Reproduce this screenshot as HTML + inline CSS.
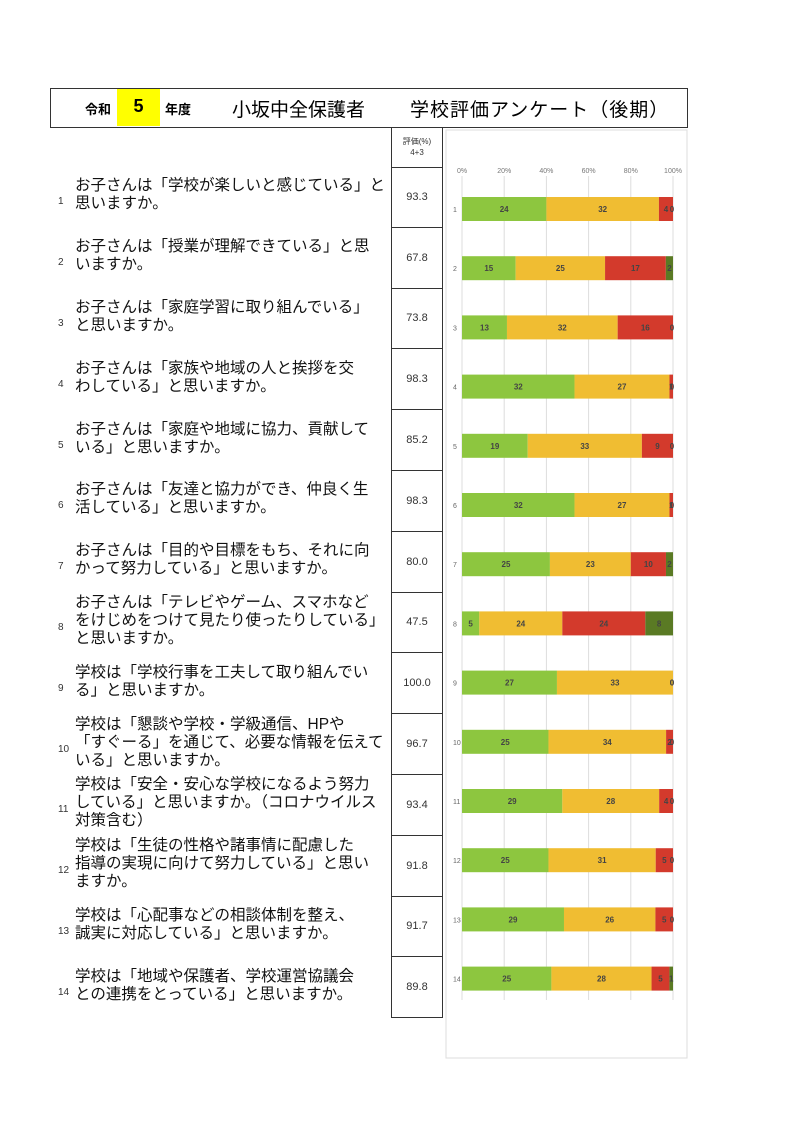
<!DOCTYPE html>
<html><head><meta charset="utf-8">
<style>
body{margin:0;width:800px;height:1131px;background:#fff;font-family:"Liberation Sans","Noto Sans CJK JP",sans-serif;position:relative;overflow:hidden}
.abs{position:absolute}
.q{position:absolute;left:50px;width:340px;font-size:15.5px;line-height:18px;color:#111}
.q .n{position:absolute;left:8px;font-size:10px;color:#333}
.q .t{position:absolute;left:25px;width:320px}
.ev{position:absolute;left:391px;width:50px;border-left:1px solid #333;border-right:1px solid #333;border-bottom:1px solid #333;font-size:11px;color:#333;display:flex;align-items:center;justify-content:center}
</style></head><body>
<div class="abs" style="left:50px;top:88px;width:636px;height:38px;border:1px solid #333"></div>
<div class="abs" style="left:85px;top:99px;font-size:13px;font-weight:bold">令和</div>
<div class="abs" style="left:117px;top:89px;width:43px;height:37px;background:#ffff00;font-size:18px;font-weight:bold;text-align:center;line-height:34px">5</div>
<div class="abs" style="left:165px;top:99px;font-size:13px;font-weight:bold">年度</div>
<div class="abs" style="left:232px;top:95px;font-size:19px">小坂中全保護者</div>
<div class="abs" style="left:410px;top:95px;font-size:19px;letter-spacing:1px">学校評価アンケート（後期）</div>
<div class="ev" style="top:127px;height:40px;font-size:8px;line-height:11px;text-align:center">評価(%)<br>4+3</div>
<div id="left"></div>
<svg id="chart" class="abs" style="left:0;top:0" width="800" height="1131"></svg>
<script>
const questions=["お子さんは「学校が楽しいと感じている」と思いますか。","お子さんは「授業が理解できている」と思いますか。","お子さんは「家庭学習に取り組んでいる」と思いますか。","お子さんは「家族や地域の人と挨拶を交わしている」と思いますか。","お子さんは「家庭や地域に協力、貢献している」と思いますか。","お子さんは「友達と協力ができ、仲良く生活している」と思いますか。","お子さんは「目的や目標をもち、それに向かって努力している」と思いますか。","お子さんは「テレビやゲーム、スマホなどをけじめをつけて見たり使ったりしている」と思いますか。","学校は「学校行事を工夫して取り組んでいる」と思いますか。","学校は「懇談や学校・学級通信、HPや「すぐーる」を通じて、必要な情報を伝えている」と思いますか。","学校は「安全・安心な学校になるよう努力している」と思いますか。（コロナウイルス対策含む）","学校は「生徒の性格や諸事情に配慮した指導の実現に向けて努力している」と思いますか。","学校は「心配事などの相談体制を整え、誠実に対応している」と思いますか。","学校は「地域や保護者、学校運営協議会との連携をとっている」と思いますか。"];
const evals=["93.3","67.8","73.8","98.3","85.2","98.3","80.0","47.5","100.0","96.7","93.4","91.8","91.7","89.8"];
const s4=[24,15,13,32,19,32,25,5,27,25,29,25,29,25];
const s3=[32,25,32,27,33,27,23,24,33,34,28,31,26,28];
const s2=[4,17,16,1,9,1,10,24,0,2,4,5,5,5];
const s1=[0,2,0,0,0,0,2,8,0,0,0,0,0,1];
const ticks=["0%","20%","40%","60%","80%","100%"];
const lines=[["お子さんは「学校が楽しいと感じている」と","思いますか。"],["お子さんは「授業が理解できている」と思","いますか。"],["お子さんは「家庭学習に取り組んでいる」","と思いますか。"],["お子さんは「家族や地域の人と挨拶を交","わしている」と思いますか。"],["お子さんは「家庭や地域に協力、貢献して","いる」と思いますか。"],["お子さんは「友達と協力ができ、仲良く生","活している」と思いますか。"],["お子さんは「目的や目標をもち、それに向","かって努力している」と思いますか。"],["お子さんは「テレビやゲーム、スマホなど","をけじめをつけて見たり使ったりしている」","と思いますか。"],["学校は「学校行事を工夫して取り組んでい","る」と思いますか。"],["学校は「懇談や学校・学級通信、HPや","「すぐーる」を通じて、必要な情報を伝えて","いる」と思いますか。"],["学校は「安全・安心な学校になるよう努力","している」と思いますか。（コロナウイルス","対策含む）"],["学校は「生徒の性格や諸事情に配慮した","指導の実現に向けて努力している」と思い","ますか。"],["学校は「心配事などの相談体制を整え、","誠実に対応している」と思いますか。"],["学校は「地域や保護者、学校運営協議会","との連携をとっている」と思いますか。"]];
const left=document.getElementById('left');
const rowTop=i=>167+i*60.8;
questions.forEach((q,i)=>{
  const top=rowTop(i), h=60.8, L=lines[i];
  const d=document.createElement('div');d.className='q';
  
  
  const ty=top+h/2-L.length*9-2;
  d.style.top=ty+'px';
  d.innerHTML='<span class="n" style="top:'+(L.length*9-2)+'px">'+(i+1)+'</span><span class="t">'+L.join('<br>')+'</span>';
  left.appendChild(d);
  const e=document.createElement('div');e.className='ev';
  
  
  e.style.top=top+'px';e.style.height=(h-1)+'px';e.textContent=evals[i];
  left.appendChild(e);
});
const svg=document.getElementById('chart');const NS='http://www.w3.org/2000/svg';
function mk(t,a,p){const e=document.createElementNS(NS,t);for(const k in a)e.setAttribute(k,a[k]);(p||svg).appendChild(e);return e;}
const x0=462,x1=673;const xs=v=>x0+(x1-x0)*v/100;
const yc=i=>209+i*59.2;
const panel=mk('rect',{x:446,y:130,width:241,height:928,fill:'#fff',stroke:'#ddd'});


ticks.forEach((t,k)=>{const x=xs(k*20);
  const g=mk('line',{x1:x,x2:x,y1:176,y2:1000,stroke:'#ddd','stroke-width':1});
  
  
  const tx=mk('text',{x:x,y:173,'font-size':7,fill:'#777','text-anchor':'middle'});tx.textContent=t;
  
  
});
const series=[s4,s3,s2,s1];const cols=['#8dc63f','#f0bd32','#d33a2c','#5a7a24'];
s4.forEach((_,i)=>{
  const tot=s4[i]+s3[i]+s2[i]+s1[i];let acc=0;const y=yc(i);
  const lb=mk('text',{x:453,y:y+3,'font-size':7,fill:'#666'});lb.textContent=i+1;
  
  
  series.forEach((s,k)=>{const v=s[i];const a=xs(acc/tot*100),b=xs((acc+v)/tot*100);acc+=v;
    if(v>0){const r=mk('rect',{x:a,y:y-12,width:b-a,height:24,fill:cols[k]});
      
      }
    if(v>0||k>=2){const t=mk('text',{x:v>0?(a+b)/2:Math.min(b+1,x1-1),y:y+3,'font-size':8,'font-weight':'bold',fill:'#444','text-anchor':'middle'});t.textContent=v;
      
      }
  });
});
</script>
</body></html>
